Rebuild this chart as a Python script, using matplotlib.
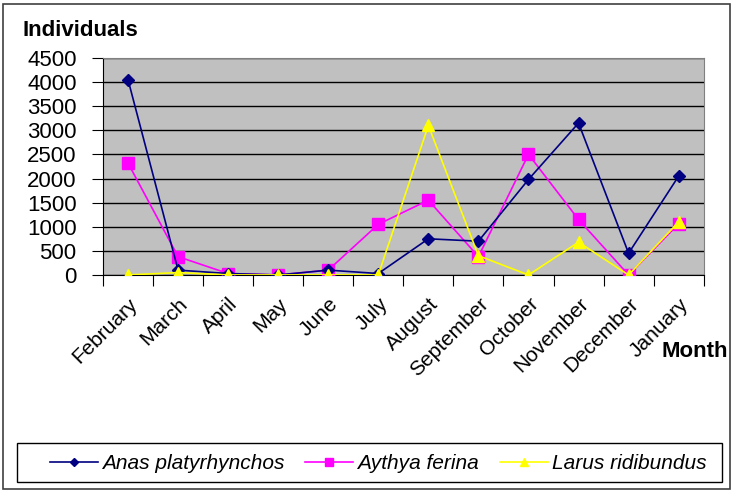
import numpy as np
import matplotlib.pyplot as plt
from matplotlib.patches import Rectangle

plt.rcParams['font.family'] = ['Liberation Sans', 'DejaVu Sans']

# Dados
months = ['February', 'March', 'April', 'May', 'June', 'July', 'August',
          'September', 'October', 'November', 'December', 'January']
anas = [4050, 100, 30, 0, 100, 30, 750, 700, 1980, 3150, 450, 2050]
aythya = [2320, 380, 30, 0, 100, 1050, 1550, 380, 2500, 1150, 0, 1060]
larus = [0, 50, 0, 0, 0, 0, 3100, 400, 0, 680, 0, 1100]

x = np.arange(len(months))

fig = plt.figure(figsize=(7.33, 4.91), dpi=100)
ax = fig.add_axes([0.1405, 0.440, 0.8195, 0.442])
ax.set_facecolor('#c0c0c0')

ax.plot(x, anas, color='#000080', marker='D', markersize=6, linewidth=1.2,
        label='Anas platyrhynchos', zorder=4)
ax.plot(x, aythya, color='#ff00ff', marker='s', markersize=9, linewidth=1.2,
        label='Aythya ferina', zorder=3)
ax.plot(x, larus, color='#ffff00', marker='^', markersize=9, linewidth=1.2,
        label='Larus ridibundus', zorder=5)

ax.set_xlim(-0.5, 11.5)
ax.set_ylim(0, 4500)
ax.set_yticks(np.arange(0, 4501, 500))
ax.yaxis.grid(True, color='black', linewidth=1)
ax.set_axisbelow(True)
ax.tick_params(axis='y', labelsize=16, length=8, pad=11, direction='out')

# ticks nas divisões das categorias
ax.set_xticks(np.arange(-0.5, 12, 1))
ax.set_xticklabels([])
ax.set_xticks(x, minor=True)
ax.set_xticklabels(months, minor=True, rotation=45, ha='right',
                   rotation_mode='anchor', fontsize=15)
ax.tick_params(axis='x', which='minor', length=0, pad=14)
ax.tick_params(axis='x', which='major', length=8)

for s in ['top', 'right']:
    ax.spines[s].set_color('#808080')
ax.spines['left'].set_color('black')
ax.spines['bottom'].set_color('black')

fig.text(0.031, 0.927, 'Individuals', fontsize=16, fontweight='bold')
fig.text(0.902, 0.273, 'Month', fontsize=16, fontweight='bold')

leg = fig.legend(loc='center', bbox_to_anchor=(0.516, 0.056), ncol=3,
                 prop={'style': 'italic', 'size': 15}, frameon=False,
                 handlelength=2.3, handletextpad=0.2, columnspacing=1.0,
                 markerscale=0.7)

# caixa da legenda
fig.patches.append(Rectangle((0.023, 0.018), 0.962, 0.079,
                             transform=fig.transFigure, fill=False,
                             edgecolor='black', linewidth=1))
# borda da figura
fig.patches.append(Rectangle((0.004, 0.004), 0.992, 0.988,
                             transform=fig.transFigure, fill=False,
                             edgecolor='#404040', linewidth=1.2))

plt.savefig('out.png')
